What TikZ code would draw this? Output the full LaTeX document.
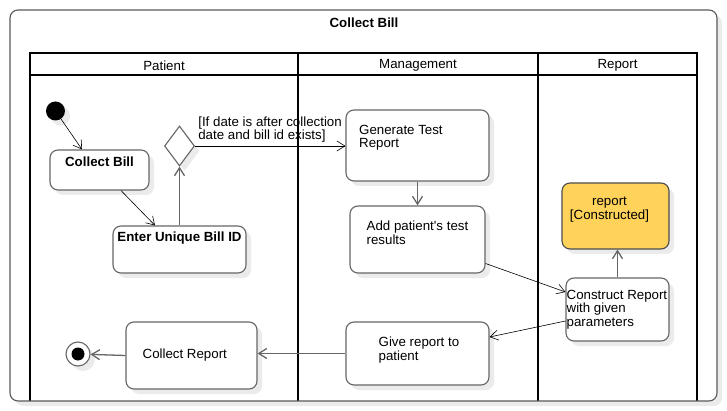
\documentclass[tikz,border=0pt]{standalone}
\usepackage{fontspec}
\setmainfont{Liberation Sans}
\usetikzlibrary{arrows.meta,positioning,shapes.geometric,shadows}

\definecolor{repYellow}{HTML}{FFD35A}

\tikzset{
  softshadow/.style={drop shadow={shadow xshift=5pt,shadow yshift=-5pt,fill=black,opacity=0.08}},
  act/.style={rectangle, draw=black!60, line width=1.1pt, rounded corners=8pt, fill=white, inner sep=0pt, softshadow},
  txt/.style={inner sep=0pt, align=left, font=\fontsize{13.3}{13.3}\selectfont},
  btxt/.style={txt, font=\fontsize{13.3}{13.3}\selectfont\bfseries},
  lane/.style={line width=1.6pt},
  flow/.style={-{Straight Barb[length=8pt,width=10pt]}, line width=0.6pt},
  flowg/.style={-{Straight Barb[length=8pt,width=10pt]}, draw=black!60, line width=1.3pt},
}

\begin{document}
\begin{tikzpicture}[x=1pt,y=-1pt]
\useasboundingbox (0,0) rectangle (727,411);

% frame and swimlanes
\path[fill=white, rounded corners=8pt, softshadow] (10,10) rectangle (717,401);
\draw[lane] (30,53) rectangle (697,75);
\foreach \x in {30,298,538,697}
  \draw[lane] (\x,53) -- (\x,401);
\draw[black!65, line width=1.1pt, rounded corners=8pt] (10,10) rectangle (717,401);

\node[btxt] (title) at (364,23) {Collect Bill};
\node[txt] (hPatient) at (164,65.5) {Patient};
\node[txt] (hManage) at (418,65.5) {Management};
\node[txt] (hReport) at (617.5,65.5) {Report};

% Patient lane
\node[circle, fill=black, minimum size=19pt, inner sep=0pt, softshadow] (init) at (55.5,111) {};
\node[act, minimum width=99pt, minimum height=40pt] (cb) at (99.5,170) {};
\node[btxt, below=7.5pt of cb.north] (cbT) {Collect Bill};
\node[act, minimum width=133pt, minimum height=47pt] (eub) at (179.5,249.5) {};
\node[btxt, below=6.5pt of eub.north] (eubT) {Enter Unique Bill ID};
\node[diamond, draw=black!60, line width=1.1pt, fill=white, minimum width=30pt, minimum height=40pt, inner sep=0pt, softshadow] (dec) at (179.5,146) {};
\node[act, minimum width=131pt, minimum height=67pt] (cr) at (191.5,355.5) {};
\node[txt, right=17pt of cr.west] (crT) {Collect Report};
\node[circle, draw=black!60, line width=1.1pt, fill=white, minimum size=24pt, inner sep=0pt, softshadow] (fin) at (78,354) {};
\node[circle, fill=black, minimum size=13pt, inner sep=0pt] (finDot) at (fin) {};

% Management lane
\node[act, minimum width=143pt, minimum height=71pt] (gen) at (417.5,145.5) {};
\node[txt, below right=15.5pt and 13.5pt of gen.north west] (genT) {Generate Test\\Report};
\node[act, minimum width=135pt, minimum height=67pt] (add) at (417.5,239.5) {};
\node[txt, below right=15.5pt and 17pt of add.north west] (addT) {Add patient\textquotesingle s test\\results};
\node[act, minimum width=143pt, minimum height=63pt] (give) at (417.5,353.5) {};
\node[txt, below right=15.5pt and 33pt of give.north west] (giveT) {Give report to\\patient};

% Report lane
\node[act, fill=repYellow, draw=black!70, minimum width=107pt, minimum height=66pt] (rep) at (615.5,216) {};
\node[txt, align=center, below=14.5pt of rep.north, xshift=-6pt] (repT) {report\\{[Constructed]}};
\node[act, minimum width=103pt, minimum height=63pt] (con) at (617.5,309.5) {};
\node[txt, below right=12.5pt and 1pt of con.north west] (conT) {Construct Report\\with given\\parameters};

% flows
\draw[flow] (init) -- ([xshift=-17.5pt]cb.north);
\draw[flow] ([xshift=21.5pt]cb.south) -- ([xshift=-24.5pt]eub.north);
\draw[flowg] (eub.north) -- (dec.south);
\draw[flow] (dec.east) -- node[txt, pos=0, anchor=south west, xshift=3pt, yshift=3.5pt] (cond) {[If date is after collection\\date and bill id exists]} (dec.east -| gen.west);
\draw[flowg] (gen.south) -- (add.north);
\draw[flow] ([yshift=-24pt]add.east) -- ([yshift=17.5pt]con.west);
\draw[flow] ([yshift=-11.5pt]con.west) -- ([yshift=16.5pt]give.east);
\draw[flowg] (con.north) -- (con.north |- rep.south);
\draw[flowg] (give.west) -- (give.west -| cr.east);
\draw[flowg] (cr.west) -- (fin);
\end{tikzpicture}
\end{document}
